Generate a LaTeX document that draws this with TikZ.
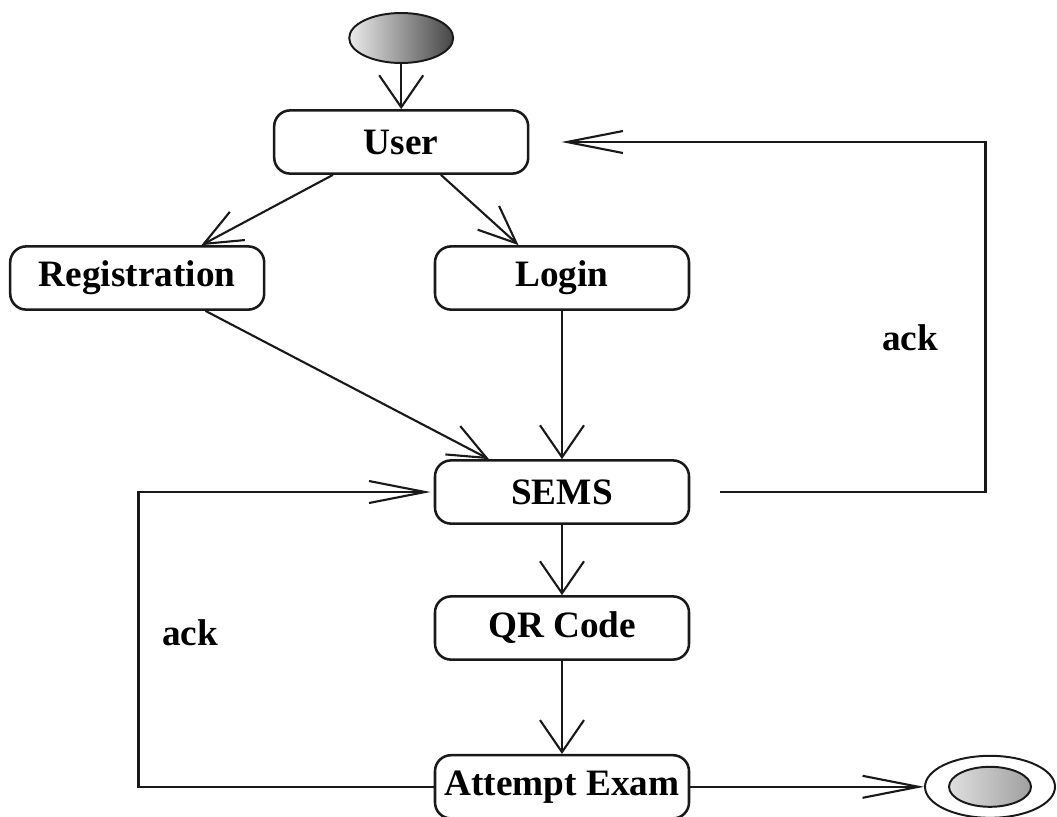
\documentclass[tikz,border=0pt]{standalone}
\usepackage{fontspec}
\setmainfont{Liberation Serif}
\usepackage{xcolor}
\usepackage{tikz}
\usetikzlibrary{shapes.geometric}
\usetikzlibrary{arrows.meta}
\definecolor{edgegray}{RGB}{25,25,25}
\definecolor{shadelight}{RGB}{235,235,235}
\definecolor{shadedark}{RGB}{70,70,70}

\begin{document}
\begin{tikzpicture}[node distance=3.4cm, auto]
    \tikzstyle{activity} = [rectangle, rounded corners=0.4cm, minimum width=6.35cm, minimum height=1.58cm, text centered, draw=edgegray, line width=1.8pt, fill=white, font=\fontsize{26.5}{30}\selectfont\bfseries]
    \tikzstyle{initial} = [ellipse, minimum width=2.6cm, minimum height=1.25cm, inner sep=0pt, draw=edgegray, line width=1.4pt, left color=shadelight, right color=shadedark]
    \tikzstyle{final} = [ellipse, minimum width=3.25cm, minimum height=1.55cm, inner sep=0pt, draw=edgegray, line width=1.4pt, fill=white]
    \tikzstyle{finalcore} = [ellipse, minimum width=2.05cm, minimum height=1.0cm, inner sep=0pt, draw=edgegray, line width=1.4pt, left color=gray!25, right color=gray!75]
    \tikzstyle{flow} = [draw=edgegray, line width=1.5pt]
    \tikzstyle{vtip} = [flow, -{Straight Barb[length=0.8cm, width=1.1cm]}]
    \tikzstyle{dtip} = [flow, -{Straight Barb[length=0.95cm, width=0.8cm]}]
    \tikzstyle{htip} = [flow, -{Straight Barb[length=1.4cm, width=0.55cm]}]
    \tikzstyle{note} = [font=\fontsize{26.5}{30}\selectfont\bfseries]

    \useasboundingbox (0,0) rectangle (26.425,-20.4);

    % States
    \node [initial] (start) at (10.03,-0.95) {};
    \node [activity, below of=start, yshift=0.8cm] (user) {User};
    \node [activity, below of=user, xshift=-6.6cm] (registration) {Registration};
    \node [activity, below of=user, xshift=4.02cm] (login) {Login};
    \node [activity, below of=login, yshift=-1.95cm] (sems) {SEMS};
    \node [activity, below of=sems] (qrcode) {QR Code};
    \node [activity, below of=qrcode, yshift=-0.57cm] (attempt) {Attempt Exam};
    \node [final, right of=attempt, xshift=7.3cm] (finish) {};
    \node [finalcore] (finishcore) at (finish) {};

    % Transitions
    \draw [vtip] (start) -- (user);
    \draw [dtip] ([xshift=1.5cm]user.south west) -- ([xshift=-1.6cm]registration.north east);
    \draw [dtip] ([xshift=4.2cm]user.south west) -- ([xshift=2.12cm]login.north west);
    \draw [dtip] ([xshift=-1.5cm]registration.south east) -- ([xshift=1.38cm]sems.north west);
    \draw [vtip] (login) -- (sems);
    \draw [vtip] (sems) -- (qrcode);
    \draw [vtip] (qrcode) -- (attempt);
    \draw [htip] (attempt) -- (finish);

    % Acknowledgements
    \draw [htip] ([xshift=0.75cm]sems.east) -- ++(6.63cm,0) |- ([xshift=0.8cm]user.east);
    \draw [htip] (attempt.west) -- ++(-7.38cm,0) |- ([xshift=-0.08cm]sems.west);
    \node [note] (ackright) at (22.75,-8.45) {ack};
    \node [note] (ackleft) at (4.75,-15.83) {ack};
\end{tikzpicture}
\end{document}
